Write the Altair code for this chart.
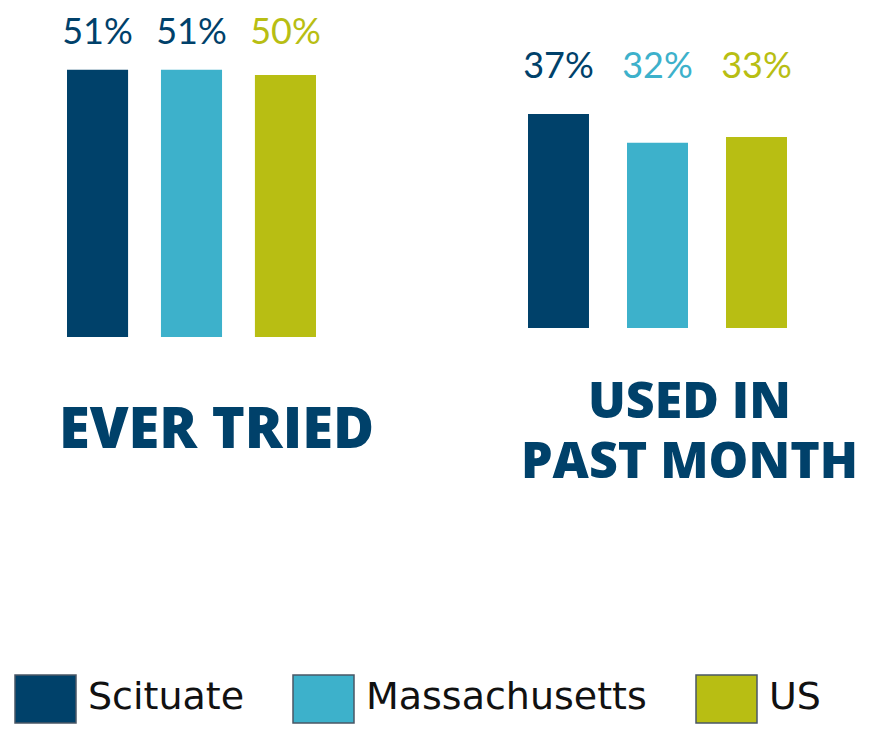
import altair as alt
import pandas as pd

locations = ["Scituate", "Massachusetts", "US"]
ever_tried = [51, 51, 50]
past_month = [37, 32, 33]
colors = ["#00416a", "#3db1cb", "#b8be13"]
navy = "#00416a"

title_font = "Open Sans"
label_font = "Lato"


def panel(values, title_lines, width, height, ymax, pi, po, label_y, dx, offset,
          title_size, ma_navy):
    df = pd.DataFrame({
        "location": locations,
        "value": values,
        "label": [f"{v}%" for v in values],
    })
    color_scale = alt.Scale(domain=locations, range=colors)
    base = alt.Chart(df).encode(
        x=alt.X("location:N", sort=locations, axis=None,
                scale=alt.Scale(paddingInner=pi, paddingOuter=po))
    )
    bars = base.mark_bar().encode(
        y=alt.Y("value:Q", axis=None,
                scale=alt.Scale(domain=[0, ymax], nice=False, zero=True)),
        color=alt.Color("location:N", sort=locations, scale=color_scale,
                        legend=alt.Legend(
                            title=None, orient="none", direction="horizontal",
                            columns=3, legendX=11.5, legendY=664, padding=0,
                            symbolType="M-1.22,-0.92H1.22V1H-1.22Z", symbolSize=2500,
                            symbolStrokeColor="#4a5766", symbolStrokeWidth=1.5,
                            symbolOpacity=1,
                            labelFont="DejaVu Sans", labelFontSize=38,
                            labelColor="#111111", labelOffset=16.5,
                            columnPadding=45, labelLimit=400)),
    )
    text_color = alt.Color("location:N", sort=locations, scale=color_scale, legend=None)
    if ma_navy:
        text_color = alt.condition("datum.location == 'Massachusetts'",
                                   alt.value(navy), text_color)
    labels = base.mark_text(font=label_font, fontSize=36, baseline="alphabetic").encode(
        y=alt.value(label_y),
        text="label:N",
        color=text_color,
    )
    return alt.layer(bars, labels).properties(
        width=width, height=height,
        title=alt.TitleParams(
            text=title_lines, orient="bottom", anchor="middle", baseline="top",
            font=title_font, fontSize=title_size, fontWeight=800, color=navy,
            lineHeight=60, offset=offset, dx=dx,
        ),
    )


left = panel(ever_tried, ["EVER TRIED"], 367, 329, 62.8, 0.35, 0.628, 36, 25, 67, 56, True)
right = panel(past_month, ["USED IN", "PAST MONTH"], 407, 320, 55.3, 0.384, 0.7475, 70, 32, 50, 50, False)

chart = alt.hconcat(left, right, spacing=79, bounds="flush").properties(
    padding=0
).configure_view(stroke=None)

chart.save("out.html", embed_options={"renderer": "svg", "actions": False})
